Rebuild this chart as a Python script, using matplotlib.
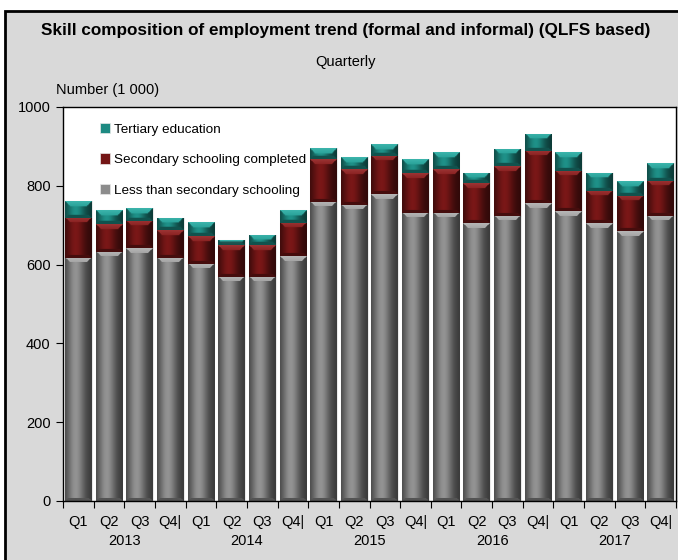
import numpy as np
import matplotlib.pyplot as plt
from matplotlib.patches import Rectangle, Patch
from matplotlib.colors import to_rgb
import matplotlib.transforms as mtransforms

plt.rcParams['font.family'] = ['Liberation Sans', 'DejaVu Sans']

quarters = ["Q1", "Q2", "Q3", "Q4|"] * 5
years = ["2013", "2014", "2015", "2016", "2017"]

less_secondary = [617, 633, 641, 617, 602, 569, 569, 621, 760, 752,
                  779, 732, 732, 705, 724, 756, 735, 705, 685, 724]
secondary = [102, 70, 70, 70, 70, 80, 80, 85, 109, 90,
             97, 101, 110, 101, 125, 132, 103, 82, 90, 89]
tertiary = [43, 35, 32, 32, 35, 14, 26, 32, 26, 30,
            29, 35, 43, 27, 44, 44, 47, 46, 38, 44]

series = [
    ("Less than secondary schooling", less_secondary, "#8c8c8c"),
    ("Secondary schooling completed", secondary, "#741616"),
    ("Tertiary education", tertiary, "#1d8a82"),
]

BG = "#d9d9d9"
BAR_W = 0.87


def bevel_image(color, h_px, w_px=27, bev=5, n=60):
    """bevelled shading like the old excel 3d bars"""
    base = np.array(to_rgb(color))
    ny = max(int(h_px), 4)
    u = (np.arange(n) + 0.5) / n
    v = (np.arange(ny) + 0.5) / ny
    U, V = np.meshgrid(u, v)  # V=0 at top row
    dl, dr = U * w_px, (1 - U) * w_px
    dt, db = V * h_px, (1 - V) * h_px
    side = np.minimum(dl, dr)
    # light from the left, dark right edge
    f = 0.4 + 0.65 * np.exp(-((U - 0.4) / 0.33) ** 2)
    top = (dt < bev) & (dt < side)
    bot = (db < bev * 0.6) & (db < side)
    f = np.where(top, 1.3, f)
    f = np.where(bot, 0.6, f)
    img = np.clip(base[None, None, :] * f[..., None], 0, 1)
    # a bit of white in the top highlight
    img = np.where(top[..., None], img * 0.85 + 0.12 * (1 - (dt / bev))[..., None] * 0.6 + 0.04, img)
    return np.clip(img, 0, 1)


fig = plt.figure(figsize=(6.78, 5.6), dpi=100, facecolor="white")
fig.patches.append(Rectangle((5 / 678, -0.02), 1.0, (560 - 11) / 560 + 0.02,
                             transform=fig.transFigure, facecolor=BG,
                             edgecolor="black", linewidth=2, zorder=-10))

fig.text(0.51, 1 - 31 / 560, "Skill composition of employment trend (formal and informal) (QLFS based)",
         ha="center", va="center", fontsize=12.3, fontweight="bold")
fig.text(0.51, 1 - 62 / 560, "Quarterly", ha="center", va="center", fontsize=10.5)
fig.text(56 / 678, 1 - 90 / 560, "Number (1 000)", ha="left", va="center", fontsize=10.5)

ax = fig.add_axes([63 / 678, 59 / 560, 613 / 678, 394 / 560])
ax.set_facecolor("white")

x = np.arange(len(quarters))
px_per_unit = 394 / 1000
bottom = np.zeros(len(x))
handles = []
for name, vals, col in series:
    vals = np.array(vals, dtype=float)
    bars = ax.bar(x, vals, BAR_W, bottom=bottom, color=col,
                  edgecolor="#e8e8e8", linewidth=0.8, zorder=2)
    for b, v, b0 in zip(bars, vals, bottom):
        img = bevel_image(col, v * px_per_unit)
        im = ax.imshow(img, extent=(b.get_x(), b.get_x() + b.get_width(), b0, b0 + v),
                       aspect="auto", interpolation="bilinear", zorder=2.5)
        im.set_clip_path(b)
    bottom += vals
    handles.append(Patch(facecolor=col, edgecolor="#e8e8e8", linewidth=0.5, label=name))

ax.set_xlim(-0.5, len(x) - 0.5)
ax.set_ylim(0, 1000)
ax.set_yticks(range(0, 1001, 200))
ax.tick_params(axis="y", direction="out", length=5, labelsize=10.5, pad=4)

# ticks between bars, labels in the middle
ax.set_xticks(np.arange(len(x) + 1) - 0.5)
ax.set_xticklabels([])
ax.set_xticks(x, minor=True)
ax.set_xticklabels(quarters, minor=True, fontsize=10.5)
ax.tick_params(axis="x", which="major", direction="out", length=5)
ax.tick_params(axis="x", which="minor", length=0, pad=10)

trans = mtransforms.blended_transform_factory(ax.transData, ax.transAxes)
for i, yr in enumerate(years):
    ax.text(4 * i + 1.5, -0.102, yr, transform=trans, ha="center", va="center", fontsize=10.5)

for s in ax.spines.values():
    s.set_linewidth(1.0)
    s.set_color("black")

leg = ax.legend(handles=handles[::-1], loc="upper left", bbox_to_anchor=(0.04, 0.99),
                frameon=False, fontsize=9.7, handlelength=0.8, handleheight=0.8,
                handletextpad=0.3, labelspacing=1.3)

fig.savefig("out.png", dpi=100, facecolor="white")
